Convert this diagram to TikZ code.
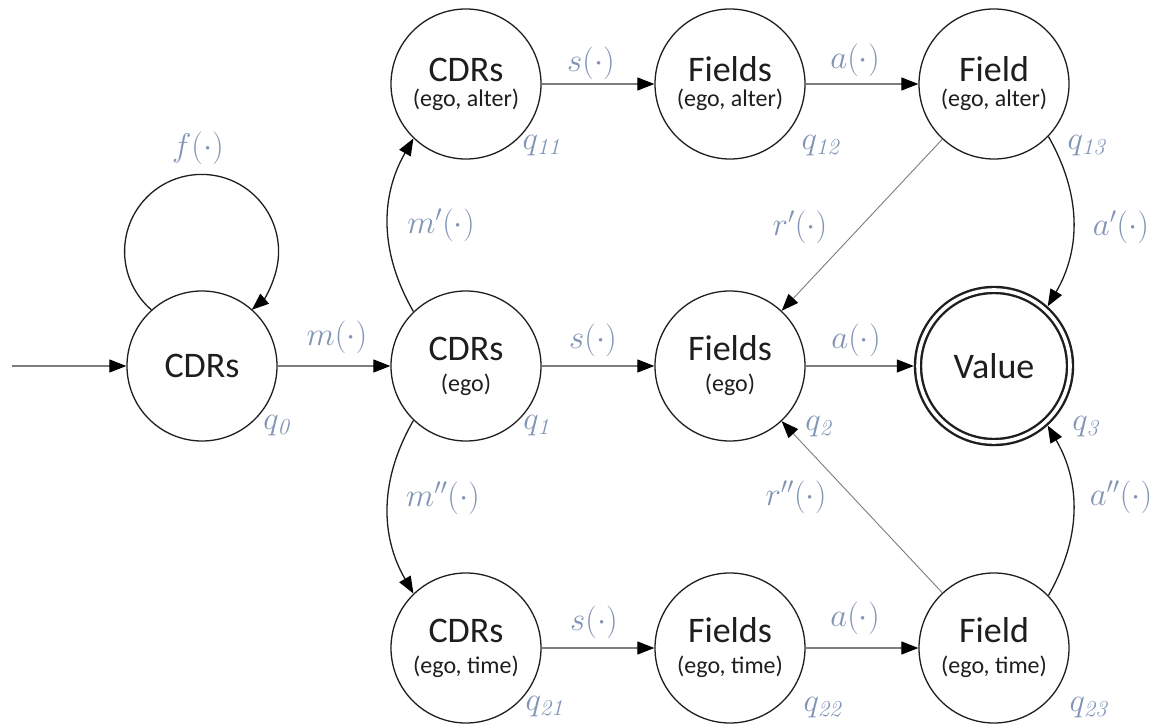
\documentclass[tikz,border=0pt]{standalone}
\usepackage[no-math]{fontspec}
\setmainfont{Carlito}
\usetikzlibrary{arrows.meta}
\definecolor{lab}{RGB}{128,148,182}
\definecolor{ink}{RGB}{30,30,30}
\definecolor{thinline}{RGB}{125,125,125}
\newcommand\second[1]{{\fontsize{24}{24}\selectfont #1}}
\tikzset{
  state/.style={circle, draw=ink, line width=1.3pt, minimum size=150pt, inner sep=0pt,
    text=ink, align=center, font=\fontsize{36}{31}\selectfont},
  tight/.style={font=\fontsize{36}{25}\selectfont},
  final/.style={circle, draw=ink, line width=2.4pt, double=white, double distance=3.6pt,
    minimum size=152pt, inner sep=0pt, outer sep=4.2pt, text=ink, font=\fontsize{36}{36}\selectfont},
  tipped/.style={-{Triangle[length=17pt,width=13pt,color=black]}},
  grayline/.style={tipped, draw=thinline, line width=1.1pt},
  blackline/.style={tipped, draw=ink, line width=1.3pt},
  lbl/.style={text=lab, font=\fontsize{24}{24}\selectfont, inner sep=0pt, scale=1.32}
}
\begin{document}
\begin{tikzpicture}[x=1pt,y=1pt]
\useasboundingbox (0,0) rectangle (1154,724);
\fill[white] (0,0) rectangle (1154,724);
% states
\node[state] (q0) at (202,358) {CDRs};
\node[state] (q1) at (466,358) {CDRs\\\second{(ego)}};
\node[state] (q2) at (730,358) {Fields\\\second{(ego)}};
\node[final] (q3) at (994,358) {Value};
\node[state,tight] (q11) at (466,640) {CDRs\\\second{(ego, alter)}};
\node[state,tight] (q12) at (730,640) {Fields\\\second{(ego, alter)}};
\node[state,tight] (q13) at (994,640) {Field\\\second{(ego, alter)}};
\node[state] (q21) at (466,76) {CDRs\\\second{(ego, time)}};
\node[state] (q22) at (730,76) {Fields\\\second{(ego, time)}};
\node[state] (q23) at (994,76) {Field\\\second{(ego, time)}};
\coordinate (start) at (12,358);
% connectors
\draw[grayline] (start) -- (q0);
\draw[blackline] (q0.132) arc[start angle=229.3, end angle=-49.3, radius=77];
\draw[grayline] (q0) -- (q1);
\draw[grayline] (q1) -- (q2);
\draw[grayline] (q2) -- (q3);
\draw[grayline] (q11) -- (q12);
\draw[grayline] (q12) -- (q13);
\draw[grayline] (q21) -- (q22);
\draw[grayline] (q22) -- (q23);
\draw[blackline] (q1.134) to[bend left=30] (q11.226);
\draw[blackline] (q1.226) to[bend right=30] (q21.134);
\draw[blackline] (q13.-44) to[bend left=30] (q3.48);
\draw[blackline] (q23.44) to[bend right=30] (q3.-48);
\draw[grayline, line width=0.9pt] (q13) -- (q2);
\draw[grayline, line width=0.9pt] (q23) -- (q2);
% edge labels
\node[lbl] (lf) at (198,576) {$f(\cdot)$};
\node[lbl] (lm) at (337,387) {$m(\cdot)$};
\node[lbl] (lm1) at (441,499) {$m'(\cdot)$};
\node[lbl] (lm2) at (443,226) {$m''(\cdot)$};
\node[lbl] (ls1) at (591,661) {$s(\cdot)$};
\node[lbl] (la1) at (855,664) {$a(\cdot)$};
\node[lbl] (ls0) at (593,384) {$s(\cdot)$};
\node[lbl] (la0) at (856,384) {$a(\cdot)$};
\node[lbl] (ls2) at (594,102) {$s(\cdot)$};
\node[lbl] (la2) at (855,106) {$a(\cdot)$};
\node[lbl] (lr1) at (800,497) {$r'(\cdot)$};
\node[lbl] (lr2) at (796,227) {$r''(\cdot)$};
\node[lbl] (lap) at (1121,497) {$a'(\cdot)$};
\node[lbl] (lapp) at (1121,227) {$a''(\cdot)$};
% state labels
\node[lbl] (n0) at (278,298) {$q_{\mathit{0}}$};
\node[lbl] (n1) at (538,298) {$q_{\mathit{1}}$};
\node[lbl] (n2) at (820,297) {$q_{\mathit{2}}$};
\node[lbl] (n3) at (1087,297) {$q_{\mathit{3}}$};
\node[lbl] (n11) at (543,578) {$q_{\mathit{11}}$};
\node[lbl] (n12) at (822,578) {$q_{\mathit{12}}$};
\node[lbl] (n13) at (1088,578) {$q_{\mathit{13}}$};
\node[lbl] (n21) at (546,17) {$q_{\mathit{21}}$};
\node[lbl] (n22) at (824,16) {$q_{\mathit{22}}$};
\node[lbl] (n23) at (1090,16) {$q_{\mathit{23}}$};
\end{tikzpicture}
\end{document}
